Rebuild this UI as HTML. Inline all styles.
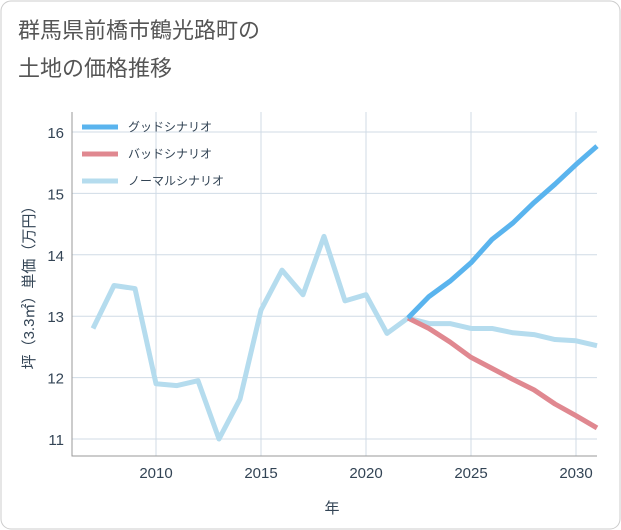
<!DOCTYPE html>
<html><head><meta charset="utf-8"><style>
body{margin:0;background:#fff;}
svg{display:block;font-family:"Liberation Sans","Noto Sans CJK JP",sans-serif;}
</style></head><body>
<svg width="621" height="530">
<rect x="1" y="1" width="619" height="528" rx="10" fill="#fff" stroke="#ccc"/>
<text x="18" y="38" font-size="22" fill="#555">群馬県前橋市鶴光路町の</text>
<text x="18" y="76" font-size="22" fill="#555">土地の価格推移</text>
<g id="grid"></g>
<g id="series"></g>
<g id="legend"></g>
<text x="332" y="513" font-size="15" fill="#345" text-anchor="middle">年</text>
<text transform="translate(34,284) rotate(-90)" font-size="15" fill="#345" text-anchor="middle">坪（3.3㎡）単価（万円）</text>
</svg>
<script>
const years=[2007,2008,2009,2010,2011,2012,2013,2014,2015,2016,2017,2018,2019,2020,2021,2022,2023,2024,2025,2026,2027,2028,2029,2030,2031];
const normal=[12.8,13.5,13.45,11.9,11.87,11.95,11.0,11.65,13.1,13.75,13.35,14.3,13.25,13.35,12.72,12.97,12.88,12.88,12.8,12.8,12.73,12.7,12.62,12.6,12.52];
const fYears=[2022,2023,2024,2025,2026,2027,2028,2029,2030,2031];
const good=[12.97,13.32,13.57,13.87,14.25,14.52,14.85,15.15,15.47,15.77];
const bad=[12.97,12.8,12.58,12.33,12.15,11.97,11.8,11.57,11.38,11.18];
const xTicks=[2010,2015,2020,2025,2030];
const yTicks=[11,12,13,14,15,16];
const NS='http://www.w3.org/2000/svg';
const L=72,R=597,T=112,B=456;
const x=v=>156+(v-2010)*21;
const y=v=>439-(v-11)*61.4;
function mk(tag,attrs,parent){const e=document.createElementNS(NS,tag);for(const k in attrs)e.setAttribute(k,attrs[k]);parent.appendChild(e);return e;}
const g=document.getElementById('grid');
xTicks.forEach(t=>{const l=mk('line',{x1:x(t),x2:x(t),y1:T,y2:B,stroke:'#d0dbe6'},g);


const tx=mk('text',{x:x(t),y:478,'font-size':15,fill:'#345','text-anchor':'middle'},g);tx.textContent=t;

});
yTicks.forEach(t=>{const l=mk('line',{x1:L,x2:R,y1:y(t),y2:y(t),stroke:'#d0dbe6'},g);


const tx=mk('text',{x:64,y:y(t)+6,'font-size':15,fill:'#345','text-anchor':'end'},g);tx.textContent=t;

});
const ax=mk('path',{d:`M${L},${T}V${B}H${R}`,fill:'none',stroke:'#999'},g);


const s=document.getElementById('series');
function line(xs,ys,col,name){const p=mk('path',{d:xs.map((v,i)=>(i?'L':'M')+x(v)+','+y(ys[i])).join(''),fill:'none',stroke:col,'stroke-width':5,'stroke-linejoin':'round'},s);

}
line(years,normal,'#b5dcee','normal-scenario-line');
line(fYears,bad,'#e08890','bad-scenario-line');
line(fYears,good,'#5ab4ee','good-scenario-line');
const lg=document.getElementById('legend');
[['グッドシナリオ','#5ab4ee'],['バッドシナリオ','#e08890'],['ノーマルシナリオ','#b5dcee']].forEach((e,i)=>{
const yy=127+i*27;
const l=mk('line',{x1:82,x2:118,y1:yy,y2:yy,stroke:e[1],'stroke-width':5},lg);


const t=mk('text',{x:128,y:yy+4,'font-size':12,fill:'#345'},lg);t.textContent=e[0];

});
</script>
</body></html>
